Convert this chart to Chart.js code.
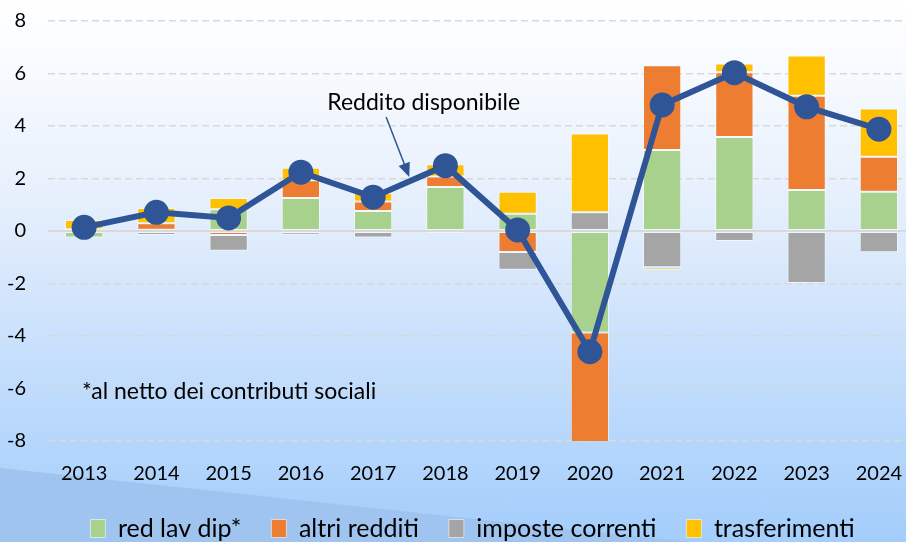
<!DOCTYPE html>
<html>
<head>
<meta charset="utf-8">
<script src="https://cdn.jsdelivr.net/npm/chart.js@4/dist/chart.umd.min.js"></script>
<style>
    html, body { margin: 0; padding: 0; }
    #wrap {
        position: relative;
        width: 906px;
        height: 542px;
        overflow: hidden;
        background: linear-gradient(to bottom, #ffffff 0%, #f4f8fe 18%, #e3eefc 40%, #d3e5fc 55%, #bcdafc 75%, #a3cdfb 100%);
    }
    #band {
        position: absolute;
        left: 0; top: 0;
        width: 906px; height: 542px;
        background: #9fc4ef;
        clip-path: polygon(0 468px, 690px 542px, 0 542px);
    }
    #chart { position: absolute; left: 0; top: 0; }
</style>
</head>
<body>
<div id="wrap">
    <div id="band"></div>
    <canvas id="chart" width="920" height="551"></canvas>
</div>
<script>
const years = ['2013', '2014', '2015', '2016', '2017', '2018', '2019', '2020', '2021', '2022', '2023', '2024'];
const redLavDip = [-0.25, 0.05, 0.83, 1.26, 0.76, 1.68, 0.66, -3.87, 3.09, 3.58, 1.56, 1.5];
const altriRedditi = [0, 0.25, -0.15, 0.67, 0.36, 0.4, -0.8, -4.2, 3.22, 2.47, 3.59, 1.33];
const imposteCorrenti = [0.07, -0.15, -0.6, -0.14, -0.25, -0.08, -0.68, 0.71, -1.38, -0.38, -1.98, -0.81];
const trasferimenti = [0.35, 0.58, 0.43, 0.48, 0.33, 0.46, 0.84, 3.0, -0.1, 0.33, 1.54, 1.84];
const redditoDisponibile = [0.14, 0.71, 0.5, 2.24, 1.29, 2.49, 0.04, -4.6, 4.8, 6.03, 4.73, 3.88];
const yTicks = [-8, -6, -4, -2, 0, 2, 4, 6, 8];

const font = 'Lato, "Open Sans", sans-serif';

function barSet(label, data, color) {
    return {
        type: 'bar',
        label: label,
        data: data,
        backgroundColor: color,
        borderColor: 'rgba(255,255,255,0.55)',
        borderWidth: 1,
        borderSkipped: false,
        order: 1,
        barPercentage: 0.53,
        categoryPercentage: 1
    };
}

// annotations drawn in data coordinates
const notes = {
    id: 'notes',
    afterDatasetsDraw(chart) {
        const ctx = chart.ctx;
        const x = chart.scales.x, y = chart.scales.y;
        ctx.save();
        ctx.fillStyle = '#000';
        ctx.font = '23px ' + font;
        ctx.textBaseline = 'middle';
        ctx.textAlign = 'center';
        ctx.fillText('Reddito disponibile', x.getPixelForValue(4.7), y.getPixelForValue(4.88));
        ctx.textAlign = 'left';
        ctx.fillText('*al netto dei contributi sociali', x.getPixelForValue(-0.03), y.getPixelForValue(-6.1));

        // arrow
        const x0 = x.getPixelForValue(4.18), y0 = y.getPixelForValue(4.34);
        const x1 = x.getPixelForValue(4.5), y1 = y.getPixelForValue(2.06);
        const ang = Math.atan2(y1 - y0, x1 - x0);
        ctx.strokeStyle = '#2F5597';
        ctx.fillStyle = '#2F5597';
        ctx.lineWidth = 1.5;
        ctx.beginPath();
        ctx.moveTo(x0, y0);
        ctx.lineTo(x1 - 10 * Math.cos(ang), y1 - 10 * Math.sin(ang));
        ctx.stroke();
        ctx.beginPath();
        ctx.moveTo(x1, y1);
        ctx.lineTo(x1 - 14 * Math.cos(ang) + 6 * Math.sin(ang), y1 - 14 * Math.sin(ang) - 6 * Math.cos(ang));
        ctx.lineTo(x1 - 14 * Math.cos(ang) - 6 * Math.sin(ang), y1 - 14 * Math.sin(ang) + 6 * Math.cos(ang));
        ctx.closePath();
        ctx.fill();
        ctx.restore();
    }
};

// nudge the legend to the right, like in the original
const legendShift = {
    id: 'legendShift',
    afterLayout(chart) {
        chart.legend.left += 15;
        chart.legend.right += 15;
    }
};

const chart = new Chart(document.getElementById('chart'), {
    data: {
        labels: years,
        datasets: [
            {
                type: 'line',
                label: 'Reddito disponibile',
                data: redditoDisponibile,
                borderColor: '#2F5597',
                backgroundColor: '#2F5597',
                borderWidth: 6,
                pointRadius: 9.5,
                pointHoverRadius: 9.5,
                tension: 0,
                order: 0
            },
            barSet('red lav dip*', redLavDip, '#A9D18E'),
            barSet('altri redditi', altriRedditi, '#ED7D31'),
            barSet('imposte correnti', imposteCorrenti, '#A5A5A5'),
            barSet('trasferimenti', trasferimenti, '#FFC000')
        ]
    },
    options: {
        responsive: false,
        animation: false,
        layout: { autoPadding: false, padding: { top: 21, right: 5, left: 0, bottom: 0 } },
        scales: {
            x: {
                stacked: true,
                grid: { display: false, drawTicks: false },
                border: { display: false },
                ticks: {
                    color: '#000',
                    padding: 21,
                    maxRotation: 0,
                    font: { family: font, size: 20 }
                },
                afterFit(scale) {
                    scale.height = 45;
                    scale.paddingLeft = 0;
                    scale.paddingRight = 0;
                }
            },
            y: {
                stacked: true,
                min: -8,
                max: 8,
                afterBuildTicks(scale) {
                    scale.ticks = yTicks.map(v => ({ value: v }));
                },
                afterFit(scale) {
                    scale.width = 48;
                    scale.paddingTop = 0;
                    scale.paddingBottom = 0;
                },
                grid: {
                    drawTicks: false,
                    color: '#d9d9d9',
                    lineWidth: ctx => (ctx.tick && ctx.tick.value === 0 ? 2 : 1.5)
                },
                border: {
                    display: false,
                    dash: ctx => (ctx.tick && ctx.tick.value === 0 ? [] : [7, 4])
                },
                ticks: {
                    color: '#000',
                    padding: 22,
                    font: { family: font, size: 20 }
                }
            }
        },
        plugins: {
            legend: {
                position: 'bottom',
                labels: {
                    boxWidth: 15,
                    boxHeight: 18,
                    padding: 30,
                    color: '#000',
                    font: { family: font, size: 25 },
                    filter: item => item.datasetIndex > 0
                }
            },
            tooltip: { enabled: false }
        }
    },
    plugins: [notes, legendShift]
});
</script>
</body>
</html>
